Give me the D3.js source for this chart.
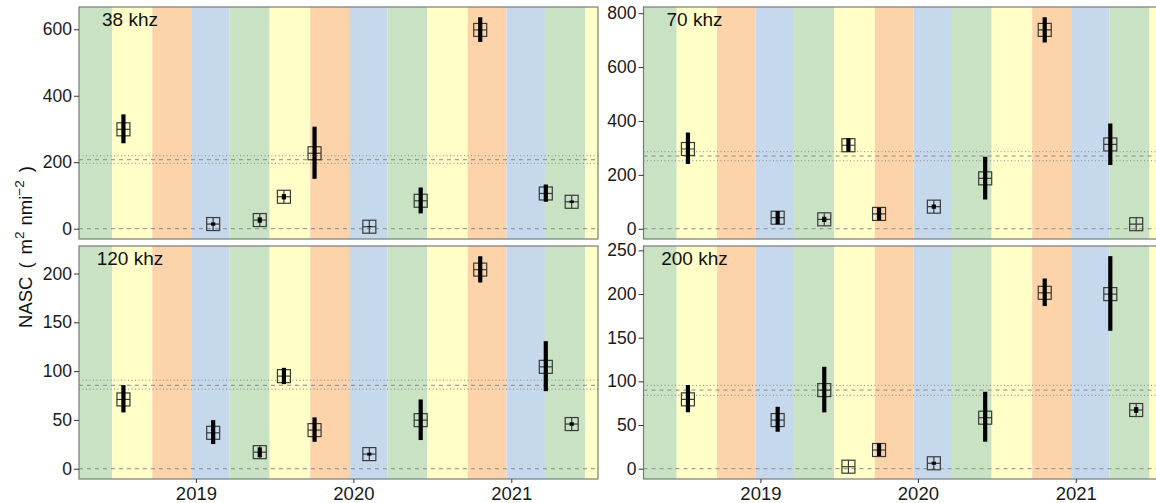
<!DOCTYPE html>
<html><head><meta charset="utf-8">
<script src="https://cdn.jsdelivr.net/npm/d3@7"></script>
<style>
body{margin:0;background:#fff;}
svg{display:block;font-family:"Liberation Sans",Arial,sans-serif;}
</style></head>
<body><svg id="c" width="1156" height="503"></svg>
<script>
// ---- data ----
const surveyDates = ["2018-07-17","2019-02-10","2019-05-29","2019-07-24","2019-10-03","2020-02-07","2020-06-05","2020-10-21","2021-03-22","2021-05-21"];
const panelNames = ["38 khz","70 khz","120 khz","200 khz"];

const nasc38 = [299, 14, 26, 96, 227, 6, 84, 598, 106, 81];
const lo38   = [257, 9, 18, 88, 150, 5, 46, 562, 81, 77];
const hi38   = [344, 19, 34, 104, 307, 7, 124, 636, 133, 85];

const nasc70 = [296, 41, 35, 310, 55, 82, 187, 738, 313, 17];
const lo70   = [240, 17, 25, 286, 32, 74, 109, 691, 237, 17];
const hi70   = [357, 66, 45, 336, 78, 90, 267, 785, 391, 17];

const nasc120 = [71, 36.8, 17, 94.9, 39.6, 15, 49.8, 204, 104.4, 45.8];
const lo120   = [57.7, 25.3, 11.7, 86.7, 27.6, 13.5, 29.4, 190.8, 79.5, 44];
const hi120   = [85.7, 49.8, 21.9, 103.4, 52.6, 16.5, 71, 217.7, 130.7, 47.6];

const nasc200 = [79.4, 55.7, 90, 2.3, 21.4, 6.2, 58.4, 201.4, 199.9, 67.2];
const lo200   = [64.5, 42.3, 64.5, 2.3, 14.5, 4.5, 30.9, 186.2, 157.9, 64];
const hi200   = [95.8, 70.9, 116.7, 2.3, 29, 8, 88.1, 217.8, 243.4, 70.5];

const meanLine = [207.5, 270, 85.5, 90];
const meanLo   = [196.7, 252.5, 81.6, 84];
const meanHi   = [219.5, 286, 90.7, 95.4];

const yDomains = [[-31, 667], [-38, 823], [-10.5, 228.2], [-11.8, 255]];
const yTicks = [[0,200,400,600],[0,200,400,600,800],[0,50,100,150,200],[0,50,100,150,200,250]];
const xTickLabels = ["2019","2020","2021"];

// seasons (astronomical): start dates and season
const seasonStarts = ["2018-03-20","2018-06-21","2018-09-22","2018-12-21","2019-03-20","2019-06-21","2019-09-23","2019-12-22","2020-03-20","2020-06-20","2020-09-22","2020-12-21","2021-03-20","2021-06-21","2021-09-22"];
const seasonKinds  = ["spring","summer","autumn","winter","spring","summer","autumn","winter","spring","summer","autumn","winter","spring","summer","autumn"];
const seasonColors = {spring:"#c9e2c3", summer:"#ffffc7", autumn:"#fdd3a9", winter:"#c6d9ec"};

const series = [
  {v:nasc38, lo:lo38, hi:hi38},
  {v:nasc70, lo:lo70, hi:hi70},
  {v:nasc120, lo:lo120, hi:hi120},
  {v:nasc200, lo:lo200, hi:hi200}
];

// ---- layout ----
const parse = d3.timeParse("%Y-%m-%d");
const panelW = 519;
const pos = [
  {x:79, y:7, h:232, bottom:false},
  {x:643.5, y:7, h:232, bottom:false},
  {x:79, y:246, h:233, bottom:true},
  {x:643.5, y:246, h:233, bottom:true}
];
const xDomain = [parse("2018-04-05"), parse("2021-07-21")];

const svg = d3.select("#c");

pos.forEach((p, i) => {
  const g = svg.append("g").attr("transform", `translate(${p.x},${p.y})`);
  const x = d3.scaleTime().domain(xDomain).range([0, panelW]);
  const y = d3.scaleLinear().domain(yDomains[i]).range([p.h, 0]);

  const clipId = "clip" + i;
  g.append("clipPath").attr("id", clipId).append("rect").attr("width", panelW).attr("height", p.h);
  const pg = g.append("g").attr("clip-path", `url(#${clipId})`);

  // season bands
  const bands = seasonStarts.map((s, k) => ({start: parse(s), end: k + 1 < seasonStarts.length ? parse(seasonStarts[k+1]) : xDomain[1], kind: seasonKinds[k]}));
  pg.selectAll("rect.band").data(bands).join("rect")
    .attr("x", d => x(d.start)).attr("width", d => Math.max(0, x(d.end) - x(d.start)))
    .attr("y", 0).attr("height", p.h)
    .attr("fill", d => seasonColors[d.kind]);

  // reference lines
  const hl = (val, dash) => pg.append("line").attr("x1", 0).attr("x2", panelW)
    .attr("y1", y(val)).attr("y2", y(val))
    .attr("stroke", "#8a8a8a").attr("stroke-width", 1).attr("stroke-dasharray", dash);
  hl(0, "4,4");
  hl(meanLine[i], "4,4");
  hl(meanLo[i], "1,2.5");
  hl(meanHi[i], "1,2.5");

  const s = series[i];
  const pts = surveyDates.map((d, k) => ({date: parse(d), v: s.v[k], lo: s.lo[k], hi: s.hi[k]}));

  // points: square with cross
  const half = 6.5;
  const pt = pg.selectAll("g.pt").data(pts).join("g").attr("class", "pt")
    .attr("transform", d => `translate(${x(d.date)},${y(d.v)})`);
  pt.append("rect").attr("x", -half).attr("y", -half).attr("width", 2*half).attr("height", 2*half)
    .attr("fill", "none").attr("stroke", "#3a3a3a").attr("stroke-width", 1.2);
  pt.append("line").attr("x1", -half).attr("x2", half).attr("y1", 0).attr("y2", 0)
    .attr("stroke", "#3a3a3a").attr("stroke-width", 1.2);
  pt.append("line").attr("x1", 0).attr("x2", 0).attr("y1", -half).attr("y2", half)
    .attr("stroke", "#3a3a3a").attr("stroke-width", 1.2);

  // error bars
  pg.selectAll("line.err").data(pts.filter(d => d.hi > d.lo)).join("line")
    .attr("x1", d => x(d.date)).attr("x2", d => x(d.date))
    .attr("y1", d => y(d.hi)).attr("y2", d => y(d.lo))
    .attr("stroke", "#000").attr("stroke-width", 4.2);

  // panel border
  g.append("rect").attr("width", panelW).attr("height", p.h)
    .attr("fill", "none").attr("stroke", "#7a7a7a").attr("stroke-width", 1.2);

  // panel label
  g.append("text").attr("x", 51).attr("y", 18.5).attr("text-anchor", "middle")
    .attr("font-size", 19).attr("fill", "#111").text(panelNames[i]);

  // y axis
  const ya = g.append("g").call(d3.axisLeft(y).tickValues(yTicks[i]).tickSize(5).tickPadding(2).tickFormat(d3.format("d")));
  ya.attr("font-size", 17.5).attr("font-family", null);
  ya.select(".domain").remove();
  ya.selectAll(".tick line").attr("stroke", "#333");
  ya.selectAll(".tick text").attr("fill", "#1a1a1a");

  // x axis (bottom panels only)
  if (p.bottom) {
    const xa = g.append("g").attr("transform", `translate(0,${p.h})`)
      .call(d3.axisBottom(x).tickValues(xTickLabels.map(t => parse(t + "-01-01"))).tickSize(4).tickPadding(4).tickFormat(d3.timeFormat("%Y")));
    xa.attr("font-size", 18.5).attr("font-family", null);
    xa.select(".domain").remove();
    xa.selectAll(".tick line").attr("stroke", "#333");
    xa.selectAll(".tick text").attr("fill", "#1a1a1a");
  }
});

// y axis title
const yt = svg.append("text").attr("transform", "translate(32,247) rotate(-90)")
  .attr("text-anchor", "middle").attr("font-size", 18.5).attr("fill", "#111");
yt.append("tspan").text("NASC");
yt.append("tspan").attr("dx", 8).text("(");
yt.append("tspan").attr("dx", 8).text("m");
yt.append("tspan").attr("font-size", 13.5).attr("dy", -8).text("2");
yt.append("tspan").attr("dx", 6).attr("dy", 8).text("nmi");
yt.append("tspan").attr("font-size", 13.5).attr("dy", -8).text("\u22122");
yt.append("tspan").attr("dx", 8).attr("dy", 8).text(")");
</script></body></html>
